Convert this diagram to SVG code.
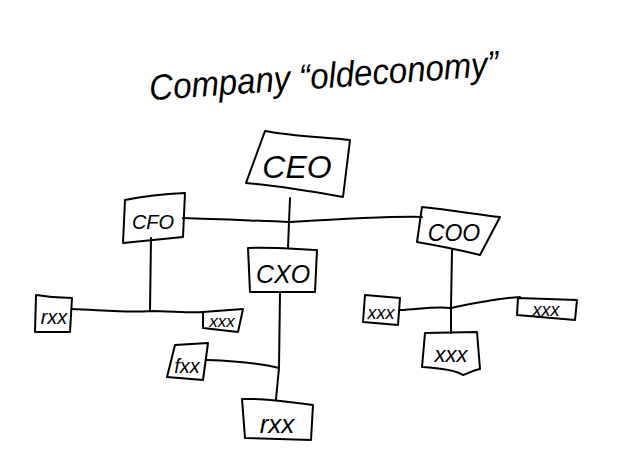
<svg xmlns="http://www.w3.org/2000/svg" width="630" height="460" viewBox="0 0 630 460">
<style>
.box{fill:none;stroke:#000;stroke-width:2;stroke-linejoin:round;stroke-linecap:round}
.ln{fill:none;stroke:#000;stroke-width:2;stroke-linecap:round;stroke-linejoin:round}
.t{font-family:"Liberation Sans",Arial,sans-serif;font-style:italic;fill:#000;text-anchor:middle}
</style>
<rect width="630" height="460" fill="#fff"/>
<text class="t" x="324" y="88" font-size="36" transform="rotate(-4 324 78)" textLength="350" lengthAdjust="spacingAndGlyphs">Company “oldeconomy”</text>
<g id="connectors">
<path class="ln" d="M290 198 L289 222 L288 248"/>
<path class="ln" d="M183 218 C220 219 260 221 290 222 C340 219 390 216 422 217"/>
<path class="ln" d="M151 238 L150 311"/>
<path class="ln" d="M72 309 C100 310 130 313 150 311 C170 311 190 313 203 312"/>
<path class="ln" d="M280 292 L279 368 L276 399"/>
<path class="ln" d="M207 360 C235 361 260 363 279 368"/>
<path class="ln" d="M452 250 L451 308 L451 333"/>
<path class="ln" d="M400 310 C420 309 435 306 451 308 C475 303 500 298 520 297"/>
</g>
<g id="ceo">
<path class="box" d="M265 131 C290 136 320 137 350 140 L343 197 C310 191 280 186 246 183 Z"/>
<text class="t" x="297" y="178" font-size="32">CEO</text>
</g>
<g id="cfo">
<path class="box" d="M125 200 C145 196 165 194 185 193 L183 237 L123 243 Z"/>
<text class="t" x="153" y="229" font-size="20">CFO</text>
</g>
<g id="cxo">
<path class="box" d="M248 248 C270 247 295 249 317 250 L315 292 L250 292 Z"/>
<text class="t" x="283" y="283" font-size="25">CXO</text>
</g>
<g id="coo">
<path class="box" d="M422 207 C450 210 475 214 500 217 L480 255 C460 250 440 246 417 242 Z"/>
<text class="t" x="454" y="241" font-size="23">COO</text>
</g>
<g id="leaf1">
<path class="box" d="M36 295 C48 297 60 298 72 298 L70 332 L35 332 Z"/>
<text class="t" x="54" y="324" font-size="20">rxx</text>
</g>
<g id="leaf2">
<path class="box" d="M203 312 L243 309 L238 332 L203 328 Z"/>
<text class="t" x="222" y="327" font-size="17">xxx</text>
</g>
<g id="leaf3">
<path class="box" d="M175 345 L208 343 L203 380 L167 377 Z"/>
<text class="t" x="187" y="373" font-size="20">fxx</text>
</g>
<g id="leaf4">
<path class="box" d="M242 399 C265 398 290 402 313 405 L311 440 L245 438 Z"/>
<text class="t" x="277" y="433" font-size="26">rxx</text>
</g>
<g id="leaf5">
<path class="box" d="M365 295 L400 298 L398 325 L363 322 Z"/>
<text class="t" x="381" y="319" font-size="18">xxx</text>
</g>
<g id="leaf6">
<path class="box" d="M425 333 L477 332 L480 369 C472 370 468 374 463 375 C455 370 440 368 422 367 Z"/>
<text class="t" x="451" y="362" font-size="22">xxx</text>
</g>
<g id="leaf7">
<path class="box" d="M518 298 L577 300 L575 320 L517 315 Z"/>
<text class="t" x="546" y="316" font-size="18">xxx</text>
</g>
</svg>
